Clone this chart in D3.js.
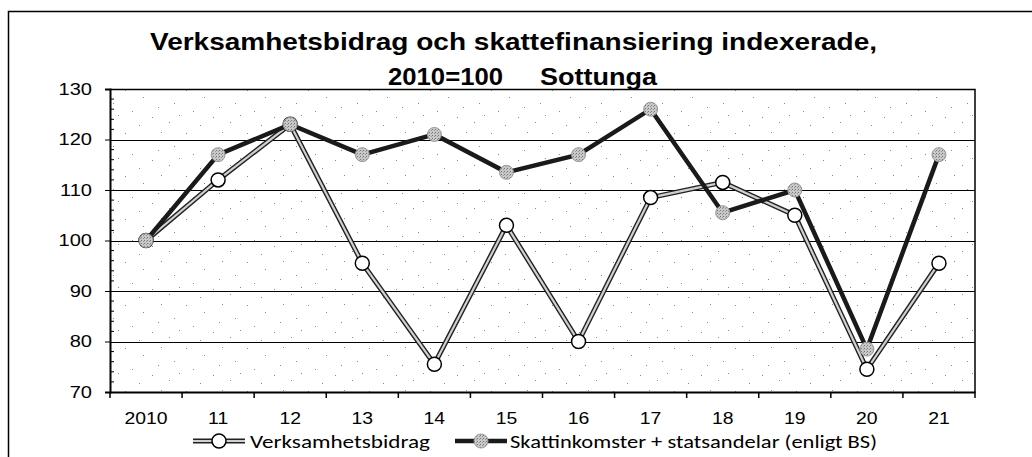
<!DOCTYPE html>
<html><head><meta charset="utf-8">
<script src="https://cdn.jsdelivr.net/npm/d3@7"></script>
<style>body{margin:0;background:#fff}svg{display:block}</style>
</head><body>
<svg id="c" width="1032" height="457"></svg>
<script>
const categories = ["2010","11","12","13","14","15","16","17","18","19","20","21"];
const verksamhetsbidrag = [100,112,123,95.5,75.5,103,80,108.5,111.5,105,74.5,95.5];
const skattinkomster = [100,117,123,117,121,113.5,117,126,105.5,110,78.5,117];
const yTicks = [70,80,90,100,110,120,130];
const seriesNames = ["Verksamhetsbidrag","Skattinkomster + statsandelar (enligt BS)"];
const titleLine1 = "Verksamhetsbidrag och skattefinansiering indexerade,";
const titleLine2a = "2010=100";
const titleLine2b = "Sottunga";

const svg = d3.select("#c");
const L=110,R=975,T=89,B=392;
const x = d3.scaleBand().domain(categories).range([L,R]).padding(0);
const y = d3.scaleLinear().domain([70,130]).range([B,T]);
const cx = c => x(c)+x.bandwidth()/2;

function stretch(sel, f){
  sel.each(function(){
    const w = this.getComputedTextLength();
    d3.select(this).attr("textLength", w*f).attr("lengthAdjust","spacingAndGlyphs");
  });
}
function fitTo(sel, w){ sel.attr("textLength", w).attr("lengthAdjust","spacingAndGlyphs"); }

// dotted background pattern
const defs = svg.append("defs");
const pat = defs.append("pattern").attr("id","dots").attr("patternUnits","userSpaceOnUse").attr("width",61).attr("height",43);
[[3,4],[21,11],[39,3],[52,17],[10,25],[30,31],[47,36],[57,29],[17,39],[36,21]].forEach(p=>
  pat.append("rect").attr("x",p[0]).attr("y",p[1]).attr("width",1).attr("height",1).attr("fill","#8a8a8a"));
const mp = defs.append("pattern").attr("id","mk").attr("patternUnits","userSpaceOnUse").attr("width",3).attr("height",3);
mp.append("rect").attr("width",3).attr("height",3).attr("fill","#c8c8c8");
mp.append("rect").attr("x",0).attr("y",0).attr("width",1).attr("height",1).attr("fill","#777");
mp.append("rect").attr("x",2).attr("y",1).attr("width",1).attr("height",1).attr("fill","#999");

// outer border
svg.append("path").attr("d","M8.5,457 V11.5 H1032").attr("fill","none").attr("stroke","#000").attr("stroke-width",1.5);

// plot area
svg.append("rect").attr("x",L).attr("y",T).attr("width",R-L).attr("height",B-T).attr("fill","url(#dots)");

// gridlines
svg.append("g").selectAll("line").data(yTicks.filter(t=>t>70&&t<130)).join("line")
  .attr("x1",L).attr("x2",R).attr("y1",d=>Math.round(y(d))+0.5).attr("y2",d=>Math.round(y(d))+0.5)
  .attr("stroke","#000").attr("stroke-width",1);

// plot border top/right
svg.append("path").attr("d",`M${L},${T+0.5} H${R} V${B}`).attr("fill","none").attr("stroke","#000").attr("stroke-width",1.5);

const af = "Arial, 'Liberation Sans', sans-serif";
// y axis
const yAxis = d3.axisLeft(y).tickValues(yTicks).tickSize(5).tickPadding(13).tickFormat(d3.format("d"));
const ga = svg.append("g").attr("transform",`translate(${L},0)`).call(yAxis);
ga.select(".domain").attr("stroke-width",2);
ga.selectAll("text").attr("font-family",af).attr("font-size",17).attr("fill","#000").call(stretch,1.18);
// minor ticks
svg.append("g").selectAll("line").data(d3.range(72,130,2).filter(v=>v%10!==0)).join("line")
  .attr("x1",L).attr("x2",L+4).attr("y1",d=>y(d)).attr("y2",d=>y(d)).attr("stroke","#000").attr("stroke-width",1);

// x axis
const xAxis = d3.axisBottom(x).tickSize(0).tickPadding(20);
const gx = svg.append("g").attr("transform",`translate(0,${B})`).call(xAxis);
gx.select(".domain").attr("stroke-width",2);
gx.selectAll("text").attr("font-family",af).attr("font-size",17).attr("fill","#000").call(stretch,1.14);
svg.append("g").selectAll("line").data(categories.concat([null])).join("line")
  .attr("x1",(d,i)=>i<categories.length?x(d):R).attr("x2",(d,i)=>i<categories.length?x(d):R)
  .attr("y1",B).attr("y2",B+6).attr("stroke","#000").attr("stroke-width",1.5);

// lines
const line = d3.line().x((d,i)=>cx(categories[i])).y(d=>y(d));
svg.append("path").datum(verksamhetsbidrag).attr("d",line).attr("fill","none").attr("stroke","#222").attr("stroke-width",5);
svg.append("path").datum(verksamhetsbidrag).attr("d",line).attr("fill","none").attr("stroke","#d0d0d0").attr("stroke-width",2.2);
svg.append("g").selectAll("circle").data(verksamhetsbidrag).join("circle")
  .attr("cx",(d,i)=>cx(categories[i])).attr("cy",d=>y(d)).attr("r",7)
  .attr("fill","#fff").attr("stroke","#000").attr("stroke-width",1.5);

svg.append("path").datum(skattinkomster).attr("d",line).attr("fill","none").attr("stroke","#1a1a1a").attr("stroke-width",4.5);
svg.append("g").selectAll("circle").data(skattinkomster).join("circle")
  .attr("cx",(d,i)=>cx(categories[i])).attr("cy",d=>y(d)).attr("r",7)
  .attr("fill","url(#mk)").attr("stroke","#999").attr("stroke-width",1);

// title
svg.append("text").attr("x",150).attr("y",50).attr("font-family",af)
  .attr("font-weight","bold").attr("font-size",23).text(titleLine1).call(fitTo,727);
svg.append("text").attr("x",388).attr("y",85).attr("font-family",af)
  .attr("font-weight","bold").attr("font-size",23).text(titleLine2a).call(fitTo,115);
svg.append("text").attr("x",540).attr("y",85).attr("font-family",af)
  .attr("font-weight","bold").attr("font-size",23).text(titleLine2b).call(fitTo,117);

// legend
const lf = "Carlito, Calibri, Lato, 'Open Sans', sans-serif";
const ly = 441;
const lg = svg.append("g");
lg.append("line").attr("x1",193).attr("x2",245).attr("y1",ly).attr("y2",ly).attr("stroke","#222").attr("stroke-width",5);
lg.append("line").attr("x1",193).attr("x2",245).attr("y1",ly).attr("y2",ly).attr("stroke","#d0d0d0").attr("stroke-width",2.2);
lg.append("circle").attr("cx",219).attr("cy",ly).attr("r",7).attr("fill","#fff").attr("stroke","#000").attr("stroke-width",1.5);
lg.append("text").attr("x",250).attr("y",448).attr("font-family",lf).attr("font-size",19).text(seriesNames[0]).call(fitTo,180);
lg.append("line").attr("x1",455).attr("x2",507).attr("y1",ly).attr("y2",ly).attr("stroke","#1a1a1a").attr("stroke-width",4.5);
lg.append("circle").attr("cx",481).attr("cy",ly).attr("r",7).attr("fill","url(#mk)").attr("stroke","#999").attr("stroke-width",1);
lg.append("text").attr("x",510).attr("y",448).attr("font-family",lf).attr("font-size",19).text(seriesNames[1]).call(fitTo,367);
</script>
</body></html>
